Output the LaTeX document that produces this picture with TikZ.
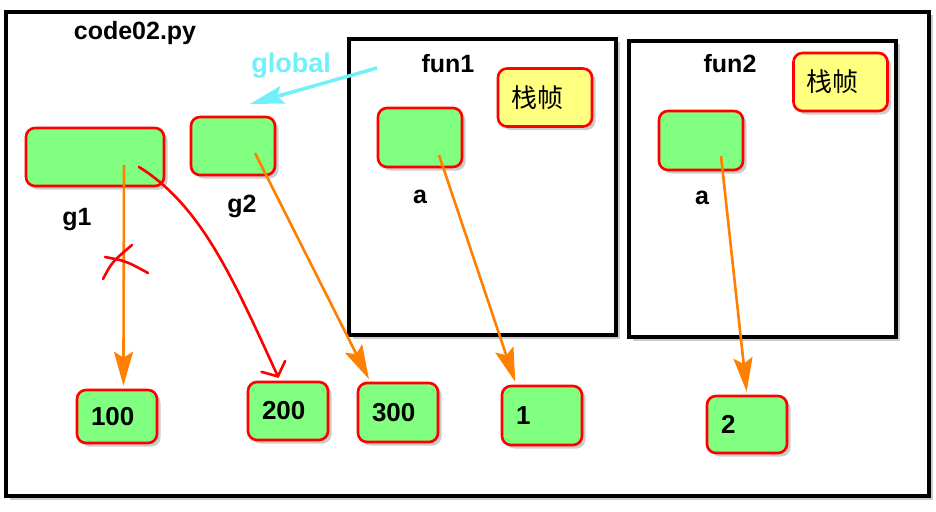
\documentclass[tikz,border=0pt]{standalone}
\usepackage{fontspec}
\setmainfont{Liberation Sans}
\newfontfamily\cjk{Noto Sans CJK SC}
\usepackage{tikz}
\usetikzlibrary{%
  arrows.meta,%
  shadows%
}
\definecolor{cellgreen}{RGB}{128,255,128}
\definecolor{tagyellow}{RGB}{255,255,128}
\definecolor{ptrorange}{RGB}{255,128,0}
\definecolor{globalcyan}{RGB}{112,240,250}
\tikzset{
  softshadow/.style={drop shadow={opacity=0.4,shadow xshift=3.5pt,shadow yshift=-3.5pt}},
  cell/.style={draw=red,line width=2.6pt,fill=cellgreen,rounded corners=9pt,softshadow},
  valbox/.style={cell,text width=52pt,inner xsep=14pt,align=left,font=\bfseries\fontsize{26}{26}\selectfont},
  tagbox/.style={draw=red,line width=2.6pt,fill=tagyellow,rounded corners=9pt,softshadow,
    minimum height=58pt,text width=68pt,inner xsep=13pt,align=left,font=\cjk\fontsize{26}{26}\selectfont},
  varname/.style={anchor=base,font=\bfseries\fontsize{25}{25}\selectfont},
  stackframe/.style={draw=black,line width=4.5pt,fill=white,softshadow},
  pointer/.style={draw=ptrorange,line width=2.6pt,shorten >=3pt,
    -{Stealth[length=34pt,width=19pt,inset=6pt]}},
  redpen/.style={draw=red,line width=2.6pt,line cap=round,line join=round}
}
\begin{document}
\begin{tikzpicture}[x=1pt,y=-1pt]
	\useasboundingbox (0,0) rectangle (936,511);
	%Frames
	\draw[stackframe] (6,12) rectangle (929,496);
	\draw[stackframe] (349,39) rectangle (616,335);
	\draw[stackframe] (629,41) rectangle (896,337);
	%Titles
	\node[varname] (title) at (135,40) {code02.py};
	\node[varname] (fun1) at (448,72) {fun1};
	\node[varname] (fun2) at (730,72) {fun2};
	\node[varname,text=globalcyan,font=\bfseries\fontsize{27}{27}\selectfont] (glob) at (291,73) {global};
	%Stack frame tags
	\node[tagbox] (tag1) at (545,97.5) {栈帧};
	\node[tagbox] (tag2) at (840.5,82) {栈帧};
	%Variables
	\node[cell,minimum width=138pt,minimum height=58pt] (g1) at (95,157) {};
	\node[cell,minimum width=84pt,minimum height=58pt] (g2) at (233,146) {};
	\node[cell,minimum width=84pt,minimum height=59pt] (a1) at (420,137.5) {};
	\node[cell,minimum width=84pt,minimum height=59pt] (a2) at (701,140.5) {};
	\node[varname] (g1name) at (77,225) {g1};
	\node[varname] (g2name) at (242,212) {g2};
	\node[varname] (a1name) at (420,203) {a};
	\node[varname] (a2name) at (702,204) {a};
	%Values
	\node[valbox,minimum height=53pt] (v100) at (117,416.5) {100};
	\node[valbox,minimum height=58pt] (v200) at (288,411) {200};
	\node[valbox,minimum height=59pt] (v300) at (398,412.5) {300};
	\node[valbox,minimum height=59pt] (v1) at (542,415.5) {1};
	\node[valbox,minimum height=57pt] (v2) at (747,424.5) {2};
	%Pointer starts
	\coordinate (g1p) at (124,165);
	\coordinate (g1q) at (139,167);
	\coordinate (g2p) at (255,153);
	\coordinate (a1p) at (439,155);
	\coordinate (a2p) at (721,156);
	\coordinate (gfrom) at (377,68);
	\coordinate (gto) at (250,104);
	%Pointers
	\draw
		(g1p) edge[pointer] (v100.77)
		(g2p) edge[pointer] (v300.132)
		(a1p) edge[pointer] (v1.130)
		(a2p) edge[pointer] (v2.north)
	;
	%Global
	\draw[draw=globalcyan,line width=3.5pt,-{Stealth[length=34pt,width=18pt,inset=6pt]}] (gfrom) -- (gto);
	%Rebinding of g1
	\draw[redpen,shorten >=3pt,-{Straight Barb[length=11pt,width=26pt,line cap=round]}]
		(g1q) .. controls (202,206) and (234,281) .. (v200.105);
	\draw[redpen] (103,279) .. controls (112,262) .. (132,245);
	\draw[redpen] (105,257) .. controls (126,261) .. (148,273);
\end{tikzpicture}
\end{document}
